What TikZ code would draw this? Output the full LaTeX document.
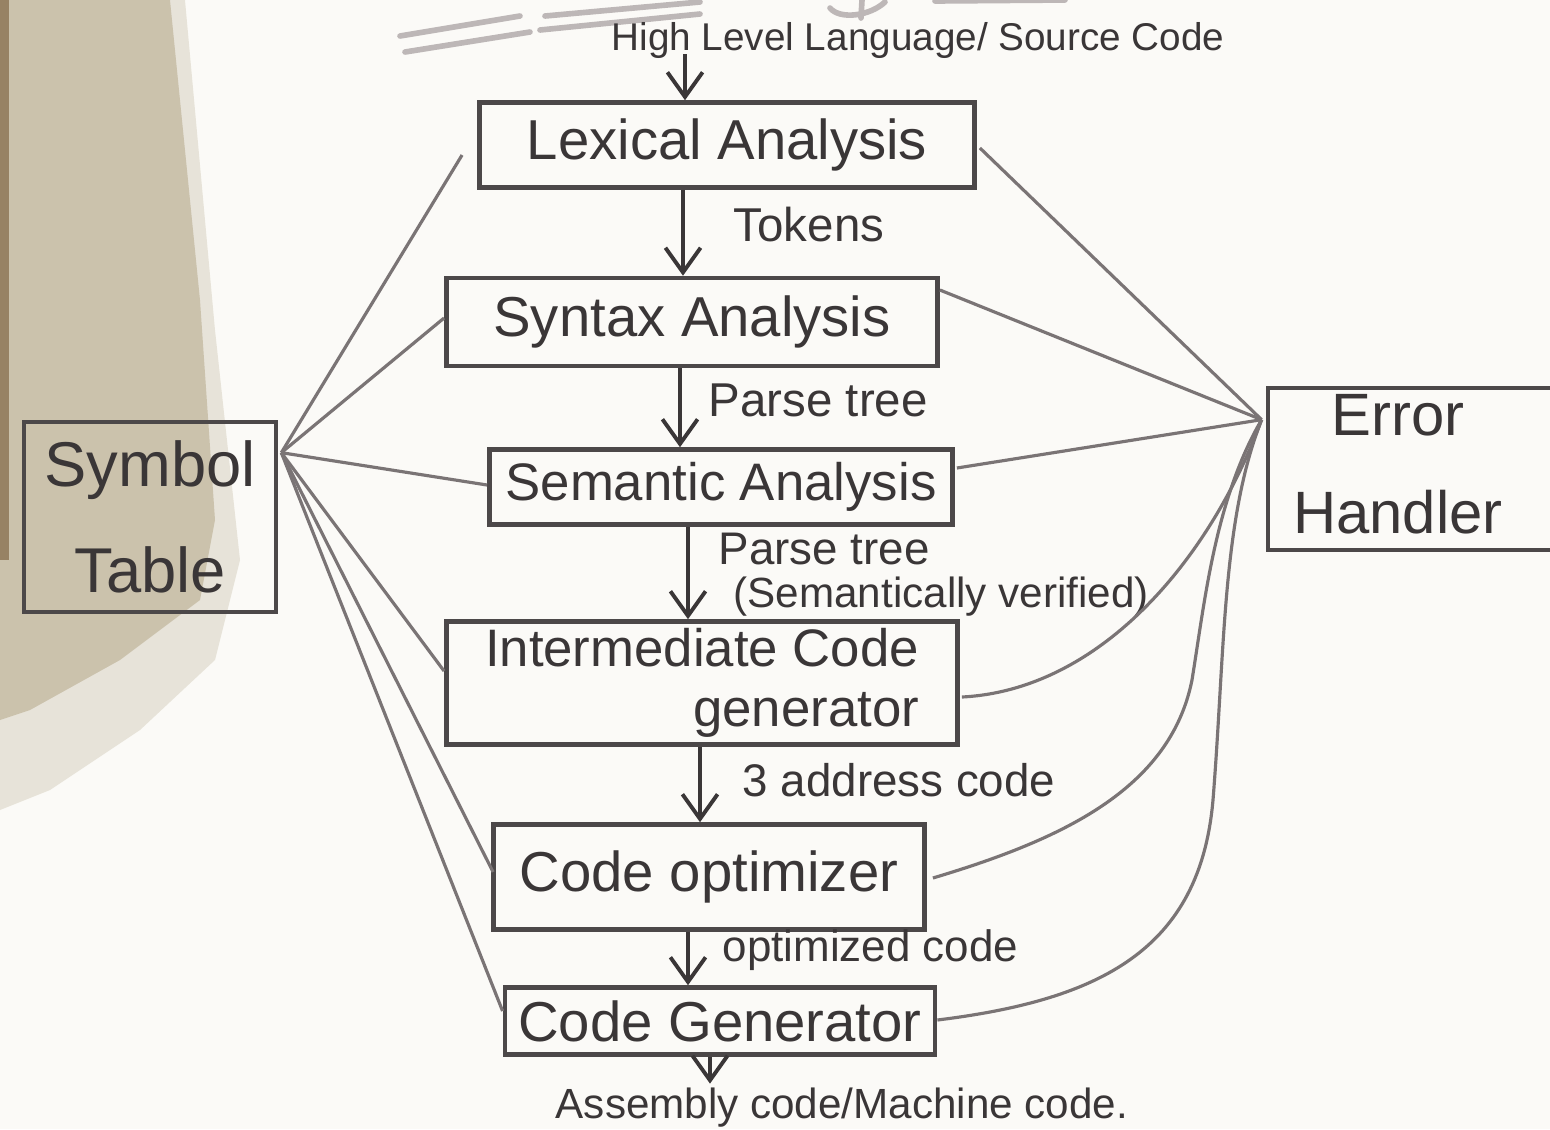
\documentclass[tikz,border=0pt]{standalone}
\usepackage{fontspec}
\setmainfont{Liberation Sans}
\usetikzlibrary{arrows.meta,calc}
\definecolor{paper}{HTML}{FBFAF7}
\definecolor{sheetshadow}{HTML}{CBC2AC}
\definecolor{edgebrown}{HTML}{8A7352}
\definecolor{ink}{HTML}{3A3637}
\definecolor{boxline}{HTML}{4C4849}
\definecolor{pencil}{HTML}{7A7475}
\definecolor{faint}{HTML}{BDB7B7}

\begin{document}
\begin{tikzpicture}[x=0.01cm,y=-0.01cm,
  stage/.style={draw=boxline,line width=1.3pt,text=ink,inner sep=0pt,
    font=\fontsize{16}{19}\selectfont},
  flowlabel/.style={text=ink,inner sep=0pt,anchor=west,
    font=\fontsize{13}{15}\selectfont},
  flow/.style={draw=ink,line width=1.1pt,-{Straight Barb[length=7pt,width=10pt]}},
  link/.style={draw=pencil,line width=0.9pt},
  scrawl/.style={draw=faint,line width=1.6pt,line cap=round}]

% page and its margins
\useasboundingbox (0,0) rectangle (1550,1129);
\clip (0,0) rectangle (1550,1129);
\fill[paper] (0,0) rectangle (1550,1129);

% shadow along the left edge of the sheet
\fill[sheetshadow, opacity=0.4] (0,0) -- (185,0) -- (215,330) -- (240,560)
  -- (215,660) -- (140,730) -- (50,790) -- (0,810) -- cycle;
\fill[sheetshadow] (0,0) -- (170,0) -- (200,300) -- (215,520) -- (200,600)
  -- (120,660) -- (30,710) -- (0,720) -- cycle;
\fill[edgebrown, opacity=0.8] (0,0) rectangle (9,560);

% crossed-out strokes at the top
\draw[scrawl] (400,36) -- (520,16);
\draw[scrawl] (405,52) -- (530,32);
\draw[scrawl] (540,30) -- (700,14);
\draw[scrawl] (545,16) -- (700,2);
\draw[scrawl] (830,8) .. controls (840,20) and (870,16) .. (885,2);
\draw[scrawl] (862,0) -- (861,18);
\draw[scrawl] (935,1) -- (1065,0);

% compiler phases
\node[stage, minimum width=4.95cm, minimum height=0.85cm] (lex) at (727,145) {Lexical Analysis};
\node[stage, minimum width=4.91cm, minimum height=0.88cm] (syn) at (692,322) {Syntax Analysis};
\node[stage, minimum width=4.63cm, minimum height=0.75cm,
  font=\fontsize{15}{18}\selectfont] (sem) at (721,487) {Semantic Analysis};
\node[stage, minimum width=5.11cm, minimum height=1.23cm, align=right,
  font=\fontsize{15}{17}\selectfont] (icg) at (702,683)
  {Intermediate Code\\generator};
\node[stage, minimum width=4.31cm, minimum height=1.05cm] (opt) at (709,877) {Code optimizer};
\node[stage, minimum width=4.30cm, minimum height=0.67cm] (gen) at (720,1021) {Code Generator};

% side tables
\node[stage, minimum width=2.52cm, minimum height=1.90cm, align=center,
  font=\fontsize{18}{30}\selectfont] (sym) at (150,517) {Symbol\\Table};
\node[stage, minimum width=3.00cm, minimum height=1.62cm] (err) at (1418,469) {};
\node[text=ink, align=center, font=\fontsize{17}{28}\selectfont] (errtext) at (1398,464)
  {Error\\Handler};

% input and output ends of the pipeline
\node[text=ink, inner sep=0pt, font=\fontsize{11}{13}\selectfont] (src) at (918,40)
  {High Level Language/ Source Code};
\coordinate (srcfoot) at (685,54);
\node[text=ink, inner sep=0pt, font=\fontsize{12}{14}\selectfont] (asm) at (842,1108)
  {Assembly code/Machine code.};

% main flow
\draw[flow] (srcfoot) -- (lex.north -| srcfoot);
\draw[flow] (lex.south -| 683,0) -- (syn.north -| 683,0);
\draw[flow] (syn.south -| 680,0) -- (sem.north -| 680,0);
\draw[flow] (sem.south -| 688,0) -- (icg.north -| 688,0);
\draw[flow] (icg.south -| 700,0) -- (opt.north -| 700,0);
\draw[flow] (opt.south -| 688,0) -- (gen.north -| 688,0);
\draw[flow] (gen.south -| 710,0) -- ($(asm.north -| 710,0)+(0,-4)$);

% what passes between phases
\node[flowlabel, font=\fontsize{13.5}{16}\selectfont] (tok) at (733,225) {Tokens};
\node[flowlabel, font=\fontsize{13.5}{16}\selectfont] (pt1) at (708,400) {Parse tree};
\node[flowlabel, font=\fontsize{13}{15}\selectfont] (pt2) at (718,549) {Parse tree};
\node[flowlabel, font=\fontsize{12}{14}\selectfont] (ver) at (733,597) {(Semantically verified)};
\node[flowlabel] (tac) at (742,780) {3 address code};
\node[flowlabel, font=\fontsize{12.5}{15}\selectfont] (ocode) at (722,950) {optimized code};

% every phase consults the symbol table
\coordinate (sp) at ($(sym.north east)+(3,33)$);
\draw[link] (sp) -- ($(lex.west)+(-15,10)$);
\draw[link] (sp) -- ($(syn.west)+(0,-4)$);
\draw[link] (sp) -- ($(sem.west)+(0,-2)$);
\draw[link] (sp) -- ($(icg.west)+(0,-12)$);
\draw[link] (sp) -- ($(opt.west)+(2,-5)$);
\draw[link] (sp) -- ($(gen.west)+(0,-10)$);

% every phase reports to the error handler
\coordinate (ep) at ($(err.north west)+(-4,34)$);
\draw[link] ($(lex.east)+(3,3)$) -- (ep);
\draw[link] ($(syn.east)+(0,-32)$) -- (ep);
\draw[link] ($(sem.east)+(2,-19)$) -- (ep);
\draw[link] ($(icg.east)+(2,14)$) .. controls (1100,690) and (1210,560) .. (ep);
\draw[link] ($(opt.east)+(6,1)$) .. controls (1060,840) and (1170,790) .. (1192,680)
  .. controls (1205,600) and (1215,500) .. (ep);
\draw[link] ($(gen.east)+(0,-1)$) .. controls (1100,1000) and (1200,950) .. (1213,800)
  .. controls (1225,650) and (1222,520) .. (ep);

\end{tikzpicture}
\end{document}
